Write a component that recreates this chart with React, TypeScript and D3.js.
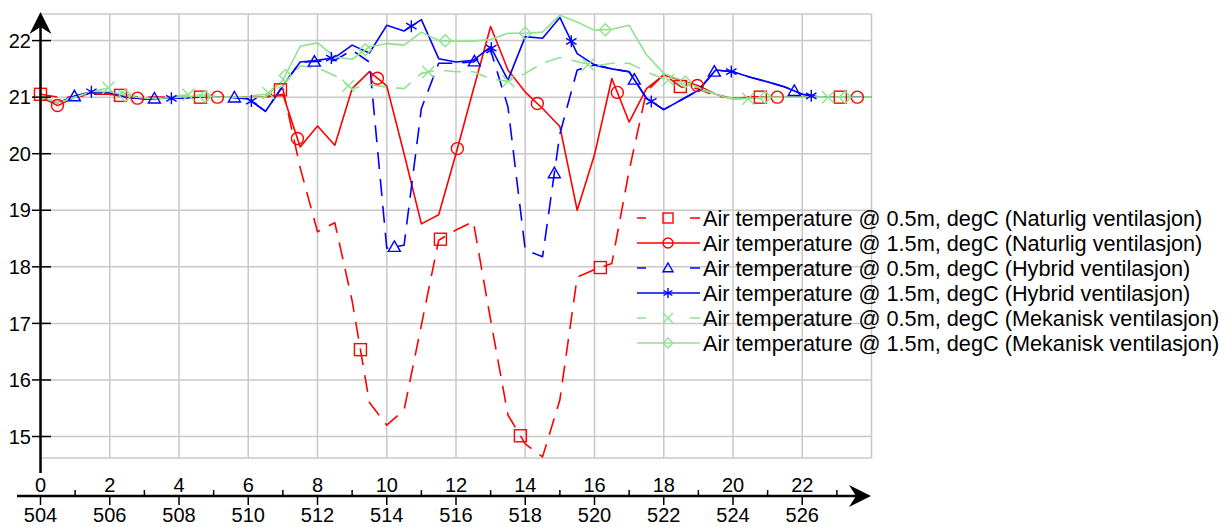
import React from "react";
import * as d3 from "d3";

// time axis (hours of the day) and the matching hour-of-year labels
const hours = [
  0, 0.5, 1, 1.5, 2, 2.5, 3, 3.5, 4, 4.5, 5, 5.5, 6, 6.5, 7, 7.5, 8, 8.5, 9, 9.5, 10, 10.5, 11, 11.5, 12,
  12.5, 13, 13.5, 14, 14.5, 15, 15.5, 16, 16.5, 17, 17.5, 18, 18.5, 19, 19.5, 20, 20.5, 21, 21.5, 22, 22.5,
  23, 23.5, 24,
];
const dayTicks = [0, 2, 4, 6, 8, 10, 12, 14, 16, 18, 20, 22];
const minorDayTicks = [1, 3, 5, 7, 9, 11, 13, 15, 17, 19, 21, 23];
const yearHourTicks = [504, 506, 508, 510, 512, 514, 516, 518, 520, 522, 524, 526];
const gridHours = [2, 4, 6, 8, 10, 12, 14, 16, 18, 20, 22, 24];
const tempTicks = [15, 16, 17, 18, 19, 20, 21, 22];

// degC, one value per half hour
const naturlig05 = [
  21.05, 21.0, 21.0, 21.05, 21.05, 21.02, 21.0, 21.0, 21.0, 21.0, 21.0, 21.0, 21.0, 21.0, 21.15, 19.75,
  18.62, 18.78, 17.4, 15.6, 15.2, 15.47, 16.97, 18.47, 18.65, 18.8, 17.06, 15.38, 14.87, 14.64, 15.65,
  17.82, 17.95, 18.06, 19.7, 21.1, 21.4, 21.18, 21.15, 21.02, 20.98, 21.0, 21.0, 21.0, 21.0, 21.0, 21.0,
  21.0, 21.0,
];
const naturlig15 = [
  21.0, 20.85, 21.0, 21.08, 21.05, 21.0, 20.97, 20.98, 21.0, 21.0, 21.0, 21.0, 21.0, 21.0, 21.05, 20.12,
  20.49, 20.15, 21.15, 21.45, 21.2, 20.0, 18.76, 18.92, 20.0, 21.13, 22.25, 21.48, 21.09, 20.8, 20.48,
  19.0, 19.98, 21.33, 20.56, 21.15, 21.39, 21.3, 21.2, 21.05, 20.97, 21.0, 21.0, 21.0, 21.0, 21.0, 21.0,
  21.0, 21.0,
];
const hybrid05 = [
  21.0, 20.9, 21.02, 21.1, 21.08, 21.0, 20.97, 20.98, 20.98, 21.0, 21.0, 21.0, 20.97, 20.75, 21.2, 21.62,
  21.63, 21.65, 21.83, 21.62, 18.33, 18.38, 20.8, 21.6, 21.6, 21.62, 21.83, 20.83, 18.3, 18.18, 20.35,
  21.48, 21.57, 21.5, 21.45, 20.98, 20.78, 20.95, 21.12, 21.48, 21.45, 21.35, 21.27, 21.18, 21.05, 21.0,
  21.0, 21.0, 21.0,
];
const hybrid15 = [
  21.0, 20.9, 21.02, 21.1, 21.08, 21.0, 20.97, 20.98, 20.98, 21.0, 21.0, 21.0, 20.97, 20.75, 21.2, 21.62,
  21.65, 21.7, 21.92, 21.78, 22.27, 22.17, 22.37, 21.68, 21.62, 21.65, 21.89, 21.3, 22.07, 22.04, 22.41,
  21.77, 21.57, 21.5, 21.45, 20.98, 20.78, 20.95, 21.12, 21.48, 21.45, 21.35, 21.27, 21.18, 21.05, 21.0,
  21.0, 21.0, 21.0,
];
const mekanisk05 = [
  21.0, 20.92, 21.0, 21.1, 21.17, 21.05, 20.98, 20.98, 21.03, 21.05, 21.02, 21.0, 21.02, 21.05, 21.2,
  21.55, 21.52, 21.38, 21.15, 21.22, 21.18, 21.15, 21.42, 21.48, 21.45, 21.45, 21.32, 21.28, 21.42, 21.6,
  21.7, 21.63, 21.55, 21.6, 21.6, 21.45, 21.32, 21.25, 21.15, 21.05, 20.98, 20.97, 21.0, 21.0, 21.0, 21.0,
  21.0, 21.0, 21.0,
];
const mekanisk15 = [
  21.0, 20.9, 21.0, 21.1, 21.1, 21.02, 20.98, 20.98, 21.0, 21.02, 21.0, 21.0, 21.0, 21.0, 21.3, 21.9,
  21.96, 21.71, 21.67, 21.89, 21.95, 21.92, 22.15, 22.0, 21.99, 21.99, 22.02, 22.13, 22.13, 22.15, 22.45,
  22.33, 22.18, 22.2, 22.27, 21.75, 21.42, 21.3, 21.17, 21.05, 20.96, 20.98, 21.0, 21.0, 21.0, 21.0, 21.0,
  21.0, 21.0,
];

const RED = "#f00";
const BLUE = "#0000ff";
const GREEN = "#8ee38e";
const GRID = "#c8c8c8";
const FONT = "'Liberation Sans', Arial, sans-serif";

type MarkerKind = "square" | "circle" | "triangle" | "star" | "cross" | "diamond";

const series: { label: string; values: number[]; color: string; dashed: boolean; marker: MarkerKind }[] = [
  { label: "Air temperature @ 0.5m, degC (Naturlig ventilasjon)", values: naturlig05, color: RED, dashed: true, marker: "square" },
  { label: "Air temperature @ 1.5m, degC (Naturlig ventilasjon)", values: naturlig15, color: RED, dashed: false, marker: "circle" },
  { label: "Air temperature @ 0.5m, degC (Hybrid ventilasjon)", values: hybrid05, color: BLUE, dashed: true, marker: "triangle" },
  { label: "Air temperature @ 1.5m, degC (Hybrid ventilasjon)", values: hybrid15, color: BLUE, dashed: false, marker: "star" },
  { label: "Air temperature @ 0.5m, degC (Mekanisk ventilasjon)", values: mekanisk05, color: GREEN, dashed: true, marker: "cross" },
  { label: "Air temperature @ 1.5m, degC (Mekanisk ventilasjon)", values: mekanisk15, color: GREEN, dashed: false, marker: "diamond" },
];

const W = 1228;
const H = 527;
const left = 40.5;
const right = 871.5;
const top = 14;
const bottom = 458;
const axisY = 496;
const tickFont = 20;

const x = d3.scaleLinear().domain([0, 24]).range([left, right]);
const xYear = d3.scaleLinear().domain([504, 528]).range([left, right]);
const y = d3.scaleLinear().domain([14.62, 22.47]).range([bottom, top]);

// marker spacing along the curve, as the source program draws them
const markerStep = 2.31;
const markerShift = 0.49;

function valueAt(values: number[], h: number) {
  const i = Math.max(0, Math.min(hours.length - 2, d3.bisectRight(hours, h) - 1));
  const t = (h - hours[i]) / (hours[i + 1] - hours[i]);
  return values[i] + (values[i + 1] - values[i]) * t;
}

function Marker({ kind, cx, cy, color, s }: { kind: MarkerKind; cx: number; cy: number; color: string; s: number }) {
  const p = { fill: "none", stroke: color, strokeWidth: 1.4 };
  switch (kind) {
    case "square":
      return <rect x={cx - s} y={cy - s} width={2 * s} height={2 * s} {...p} />;
    case "circle":
      return <circle cx={cx} cy={cy} r={s} {...p} />;
    case "triangle":
      return <path d={`M${cx},${cy - s}L${cx + s},${cy + s * 0.75}L${cx - s},${cy + s * 0.75}Z`} {...p} />;
    case "star": {
      const a = s * 0.87;
      const b = s * 0.5;
      return (
        <path
          d={`M${cx},${cy - s}V${cy + s}M${cx - a},${cy - b}L${cx + a},${cy + b}M${cx - a},${cy + b}L${cx + a},${cy - b}`}
          {...p}
        />
      );
    }
    case "cross":
      return <path d={`M${cx - s},${cy - s}L${cx + s},${cy + s}M${cx - s},${cy + s}L${cx + s},${cy - s}`} {...p} />;
    case "diamond":
      return <path d={`M${cx},${cy - s}L${cx + s},${cy}L${cx},${cy + s}L${cx - s},${cy}Z`} {...p} />;
  }
  return null;
}

export default function App() {
  const line = d3
    .line<number>()
    .x((_, i) => x(hours[i]))
    .y((d) => y(d));

  const legendX0 = 637;
  const legendX1 = 700;
  const legendMid = 668;
  const legendY = d3.scaleLinear().domain([0, 5]).range([218, 343]);

  return (
    <svg
      width={W}
      height={H}
      style={{ position: "absolute", left: 0, top: 0, background: "#fff" }}
      fontFamily={FONT}
    >
      {/* grid */}
      <g stroke={GRID} strokeWidth={1.5}>
        {gridHours.map((h) => (
          <line key={h} x1={x(h)} x2={x(h)} y1={top} y2={bottom} />
        ))}
        {tempTicks.map((t) => (
          <line key={t} x1={left} x2={right} y1={y(t)} y2={y(t)} />
        ))}
        <line x1={left} x2={right} y1={top} y2={top} />
        <line x1={left} x2={right} y1={bottom} y2={bottom} />
      </g>

      {/* series */}
      {series.map((s) => (
        <path
          key={s.label}
          d={line(s.values) || ""}
          fill="none"
          stroke={s.color}
          strokeWidth={1.6}
          strokeDasharray={s.dashed ? "17,10" : undefined}
          strokeLinejoin="round"
        />
      ))}
      {series.map((s, si) => {
        const marks = d3.range(si * markerShift, 24.001, markerStep);
        return (
          <g key={s.label + "m"}>
            {marks.map((h) => (
              <Marker key={h} kind={s.marker} cx={x(h)} cy={y(valueAt(s.values, h))} color={s.color} s={6} />
            ))}
          </g>
        );
      })}

      {/* y axis */}
      <line x1={left} x2={left} y1={22} y2={473} stroke="#000" strokeWidth={2.5} />
      <path d={`M${left},12L${left + 11},34L${left},27L${left - 11},34Z`} fill="#000" />
      {tempTicks.map((t) => (
        <g key={t}>
          <line x1={32} x2={51} y1={y(t)} y2={y(t)} stroke="#000" strokeWidth={1.5} />
          <text x={31} y={y(t) + 7.2} textAnchor="end" fontSize={tickFont} fill="#000">
            {t}
          </text>
        </g>
      ))}

      {/* x axis */}
      <line x1={17} x2={862} y1={axisY} y2={axisY} stroke="#000" strokeWidth={2.5} />
      <path d={`M${871},${axisY}L${849},${axisY - 11}L${856},${axisY}L${849},${axisY + 11}Z`} fill="#000" />
      {dayTicks.map((h) => (
        <g key={h}>
          <line x1={x(h)} x2={x(h)} y1={axisY} y2={axisY + 9} stroke="#000" strokeWidth={1.5} />
          <text x={x(h)} y={492} textAnchor="middle" fontSize={tickFont} fill="#000">
            {h}
          </text>
        </g>
      ))}
      {minorDayTicks.map((h) => (
        <line key={h} x1={x(h)} x2={x(h)} y1={axisY - 6} y2={axisY} stroke="#000" strokeWidth={1.5} />
      ))}
      {yearHourTicks.map((v) => (
        <text key={v} x={xYear(v)} y={522} textAnchor="middle" fontSize={tickFont} fill="#000">
          {v}
        </text>
      ))}

      {/* legend */}
      {series.map((s, i) => {
        const cy = legendY(i);
        return (
          <g key={s.label + "l"}>
            {s.dashed ? (
              <g stroke={s.color} strokeWidth={1.5}>
                <line x1={legendX0} x2={legendX0 + 9} y1={cy} y2={cy} />
                <line x1={legendX1 - 10} x2={legendX1} y1={cy} y2={cy} />
              </g>
            ) : (
              <line x1={legendX0} x2={legendX1} y1={cy} y2={cy} stroke={s.color} strokeWidth={1.5} />
            )}
            <Marker kind={s.marker} cx={legendMid} cy={cy} color={s.color} s={5} />
            <text x={703} y={cy + 7.6} fontSize={21.7} fill="#000">
              {s.label}
            </text>
          </g>
        );
      })}
    </svg>
  );
}
